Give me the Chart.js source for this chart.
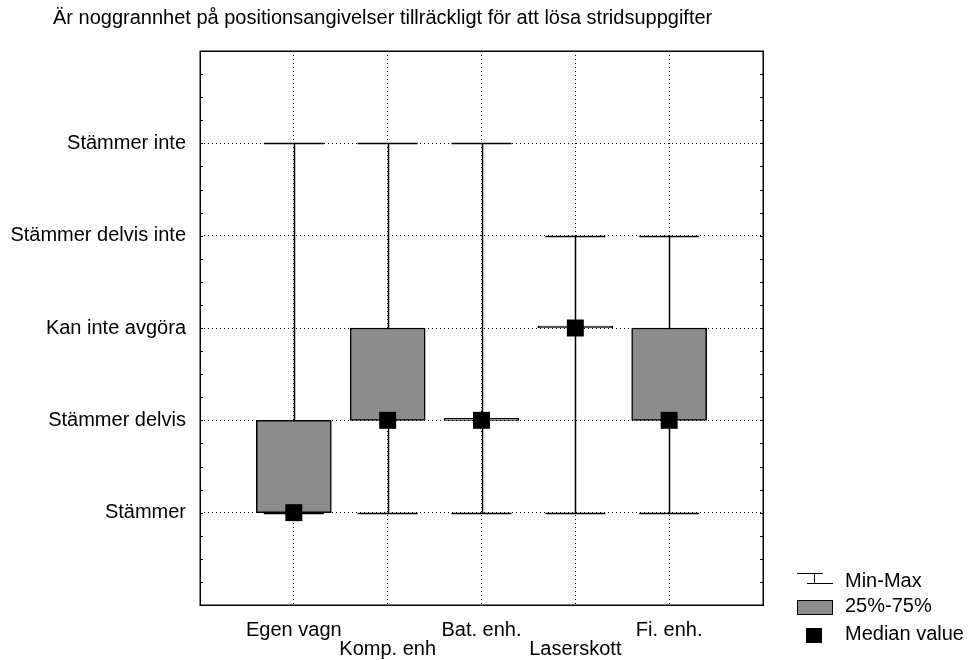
<!DOCTYPE html>
<html>
<head>
<meta charset="utf-8">
<script src="https://cdn.jsdelivr.net/npm/chart.js@4"></script>
<style>
  html, body { margin: 0; padding: 0; background: #fff; }
  #wrap { position: relative; width: 968px; height: 660px; font-family: "Liberation Sans", Arial, sans-serif; color: #000; }
  #chart { position: absolute; left: 0; top: 0; }
  #title { position: absolute; left: 53px; top: 7px; font-size: 20px; line-height: 20px; white-space: nowrap; }
  .sym { position: absolute; left: 797px; }
  .txt { position: absolute; left: 845px; font-size: 20px; line-height: 20px; white-space: nowrap; }
</style>
</head>
<body>
<div id="wrap">
  <canvas id="chart" width="968" height="660"></canvas>
  <div id="title">Är noggrannhet på positionsangivelser tillräckligt för att lösa stridsuppgifter</div>

  <svg class="sym" style="top:570px" width="40" height="20">
    <line x1="0" y1="3.5" x2="26" y2="3.5" stroke="#000" stroke-width="1"/>
    <line x1="17.5" y1="3.5" x2="17.5" y2="13.5" stroke="#000" stroke-width="1"/>
    <line x1="10" y1="13.5" x2="36" y2="13.5" stroke="#000" stroke-width="1"/>
  </svg>
  <div class="txt" style="top:570px">Min-Max</div>

  <svg class="sym" style="top:595px" width="40" height="22">
    <rect x="0.5" y="5.5" width="35" height="14" fill="#8c8c8c" stroke="#000" stroke-width="1"/>
  </svg>
  <div class="txt" style="top:595px">25%-75%</div>

  <svg class="sym" style="top:624px" width="40" height="22">
    <rect x="9" y="4" width="16" height="15" fill="#000"/>
  </svg>
  <div class="txt" style="top:623px">Median value</div>
</div>
<script>
// Response groups and the answer scale (1 = Stämmer ... 5 = Stämmer inte)
const groups = ['Egen vagn', 'Komp. enh', 'Bat. enh.', 'Laserskott', 'Fi. enh.'];
const answerLabels = ['Stämmer', 'Stämmer delvis', 'Kan inte avgöra', 'Stämmer delvis inte', 'Stämmer inte'];

// Box-plot statistics per group
const minValues    = [1, 1, 1, 1, 1];
const maxValues    = [5, 5, 5, 4, 4];
const q1Values     = [1, 2, 2, 3, 2];
const q3Values     = [2, 3, 2, 3, 3];
const medianValues = [1, 2, 2, 3, 2];

const groupPos = groups.map((g, i) => i + 1);
const FONT = { family: '"Liberation Sans", Arial, sans-serif', size: 20, lineHeight: 0.95 };

// Whiskers (min-max) under the boxes; minor ticks and frame on top
const whiskerPlugin = {
  id: 'whiskers',
  beforeDatasetsDraw(chart) {
    const { ctx, scales: { x, y } } = chart;
    ctx.save();
    ctx.strokeStyle = '#000';
    ctx.lineWidth = 1.5;
    const capHalf = 0.32;
    groupPos.forEach((p, i) => {
      const cx = Math.round(x.getPixelForValue(p)) + 0.5;
      const yMin = Math.round(y.getPixelForValue(minValues[i])) + 0.5;
      const yMax = Math.round(y.getPixelForValue(maxValues[i])) + 0.5;
      const xl = x.getPixelForValue(p - capHalf);
      const xr = x.getPixelForValue(p + capHalf);
      ctx.beginPath();
      ctx.moveTo(cx, yMin); ctx.lineTo(cx, yMax);
      ctx.moveTo(xl, yMin); ctx.lineTo(xr, yMin);
      ctx.moveTo(xl, yMax); ctx.lineTo(xr, yMax);
      ctx.stroke();
    });
    ctx.restore();
  },
  afterDraw(chart) {
    const { ctx, scales: { y }, chartArea: a } = chart;
    ctx.save();
    ctx.strokeStyle = '#000';
    ctx.lineWidth = 1;
    ctx.beginPath();
    for (let v = y.min + 0.25; v < y.max; v += 0.25) {
      const py = Math.round(y.getPixelForValue(v)) + 0.5;
      ctx.moveTo(a.left, py); ctx.lineTo(a.left + 3, py);
      ctx.moveTo(a.right, py); ctx.lineTo(a.right - 3, py);
    }
    ctx.stroke();
    ctx.lineWidth = 1.5;
    ctx.strokeRect(Math.round(a.left) + 0.25, Math.round(a.top) + 0.25,
                   Math.round(a.right - a.left), Math.round(a.bottom - a.top));
    ctx.restore();
  }
};

const edgeColor = (ctx) => {
  const v = ctx.tick ? ctx.tick.value : null;
  return (v === 0 || v === 6) ? 'rgba(0,0,0,0)' : '#000';
};
const wholeTicks = (scale) => { scale.ticks = [0, 1, 2, 3, 4, 5, 6].map(v => ({ value: v })); };

new Chart(document.getElementById('chart'), {
  type: 'bar',
  data: {
    datasets: [
      {
        type: 'scatter',
        label: 'Median value',
        data: groupPos.map((p, i) => ({ x: p, y: medianValues[i] })),
        pointStyle: 'rect',
        pointRadius: 12,
        pointHoverRadius: 12,
        backgroundColor: '#000',
        borderColor: '#000',
        borderWidth: 0,
        order: 0
      },
      {
        type: 'bar',
        label: '25%-75%',
        data: groupPos.map((p, i) => ({ x: p, y: [q1Values[i], q3Values[i]] })),
        backgroundColor: '#8c8c8c',
        borderColor: '#000',
        borderWidth: 1.5,
        borderSkipped: false,
        barThickness: 75,
        minBarLength: 2,
        order: 1
      }
    ]
  },
  options: {
    responsive: false,
    animation: false,
    layout: { padding: { top: 51, right: 205, left: 0, bottom: 0 } },
    plugins: { legend: { display: false }, tooltip: { enabled: false }, title: { display: false } },
    scales: {
      x: {
        type: 'linear',
        min: 0, max: 6,
        offset: false,
        afterFit(scale) { scale.height = 55; },
        afterBuildTicks: wholeTicks,
        grid: { color: edgeColor, lineWidth: 1, drawTicks: false, offset: false },
        border: { display: false, dash: [1, 3] },
        ticks: {
          padding: 16,
          color: '#000',
          font: FONT,
          maxRotation: 0,
          autoSkip: false,
          callback(v) {
            const i = v - 1;
            if (i < 0 || i >= groups.length) return '';
            return i % 2 === 0 ? [groups[i], ''] : ['', groups[i]];
          }
        }
      },
      y: {
        type: 'linear',
        min: 0, max: 6,
        afterFit(scale) { scale.width = 200; },
        afterBuildTicks: wholeTicks,
        grid: { color: edgeColor, lineWidth: 1, drawTicks: false },
        border: { display: false, dash: [1, 3] },
        ticks: {
          padding: 14,
          color: '#000',
          font: FONT,
          autoSkip: false,
          callback(v) {
            const i = v - 1;
            return (i >= 0 && i < answerLabels.length) ? answerLabels[i] : '';
          }
        }
      }
    }
  },
  plugins: [whiskerPlugin]
});
</script>
</body>
</html>
